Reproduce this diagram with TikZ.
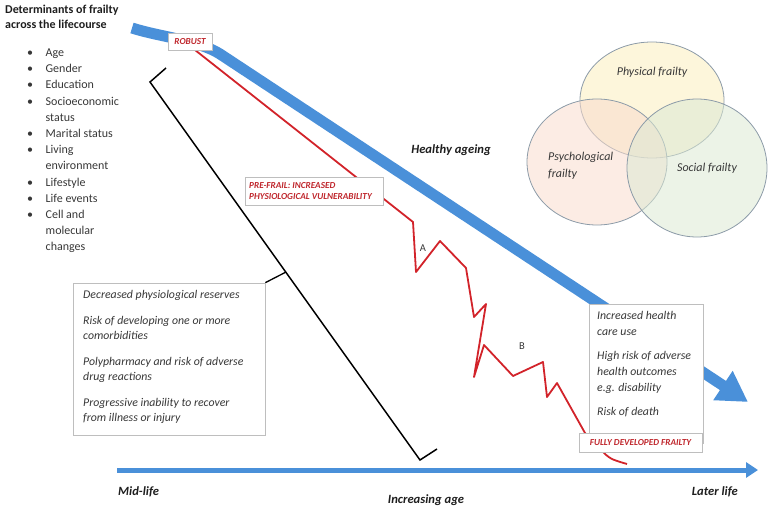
\documentclass[tikz,border=0pt]{standalone}
\usepackage{fontspec}
\setmainfont{Carlito}
\usetikzlibrary{arrows.meta,calc,backgrounds,shapes.geometric}
\definecolor{bluearr}{RGB}{74,144,217}
\definecolor{redl}{RGB}{210,35,42}
\definecolor{redt}{RGB}{192,39,45}
\definecolor{boxg}{RGB}{190,190,190}
\definecolor{txt}{RGB}{55,55,55}
\definecolor{ttl}{RGB}{30,30,30}
\definecolor{vennline}{RGB}{140,155,168}
\definecolor{physf}{RGB}{252,238,190}
\definecolor{psyf}{RGB}{249,220,205}
\definecolor{socf}{RGB}{220,233,212}
\begin{document}
\begin{tikzpicture}[x=1pt,y=-1pt,
  bodytxt/.style={font=\fontsize{11.8}{15}\selectfont\itshape, text=txt, inner sep=0pt, align=left, anchor=north west},
  redlab/.style={font=\fontsize{9.2}{11}\selectfont\bfseries\itshape, text=redt, inner sep=0pt, align=left},
  framebox/.style={draw=boxg, fill=white, line width=0.7pt, inner sep=0pt, minimum width=#1},
  axislab/.style={font=\fontsize{12.6}{15}\selectfont\bfseries\itshape, text=ttl, inner sep=0pt},
  venn/.style={ellipse, draw=vennline, line width=0.8pt, fill=#1, fill opacity=0.55, inner sep=0pt},
  venntxt/.style={font=\fontsize{12}{17}\selectfont\itshape, text=txt, inner sep=0pt, align=left},
  zigtxt/.style={font=\fontsize{10.5}{12}\selectfont, text=txt, inner sep=0pt},
  redline/.style={draw=redl, line width=1.8pt, line join=round},
  bracketline/.style={draw=black, line width=1.5pt, line join=miter}
]
\useasboundingbox (0,0) rectangle (768,508);

% Title and list
\node[anchor=north west, inner sep=0pt, align=left, text=ttl,
  font=\fontsize{12}{14.5}\selectfont\bfseries] (title) at (5,5)
  {Determinants of frailty\\across the lifecourse};
\node[anchor=north west, inner sep=0pt, text=txt] (list) at (27,45)
  {\fontsize{12}{16.2}\selectfont
   \begin{tabular}{@{}l@{\hspace{12.5pt}}l@{}}
   \textbullet & Age\\
   \textbullet & Gender\\
   \textbullet & Education\\
   \textbullet & Socioeconomic\\
               & status\\
   \textbullet & Marital status\\
   \textbullet & Living\\
               & environment\\
   \textbullet & Lifestyle\\
   \textbullet & Life events\\
   \textbullet & Cell and\\
               & molecular\\
               & changes
   \end{tabular}};

% Venn diagram
\node[venn=physf, minimum width=144, minimum height=116] (phys) at (652,100) {};
\node[venn=psyf, minimum width=140, minimum height=126] (psy) at (597,162) {};
\node[venn=socf, minimum width=140, minimum height=138] (soc) at (697,168) {};
\node[venntxt] (physl) at (652,72) {Physical frailty};
\node[venntxt, anchor=west] (psyl) at (548,166) {Psychological\\frailty};
\node[venntxt] (socl) at (707,168) {Social frailty};

% Boxes
\node[framebox=44, minimum height=17] (robust) at (190,41.5) {};
\node[redlab] (robustl) at (robust) {ROBUST};
\node[framebox=138, minimum height=28] (prefrail) at (314,191) {};
\node[redlab, anchor=west] (prefraill) at (249,191.5) {PRE-FRAIL: INCREASED\\PHYSIOLOGICAL VULNERABILITY};
\node[framebox=192, minimum height=152] (dbox) at (169,359) {};
\node[bodytxt] (dtxt) at (83,290) {Decreased physiological reserves\\[11pt]
  Risk of developing one or more\\comorbidities\\[11pt]
  Polypharmacy and risk of adverse\\drug reactions\\[11pt]
  Progressive inability to recover\\from illness or injury};
\node[framebox=114, minimum height=139] (rbox) at (646,373.5) {};
\node[bodytxt, font=\fontsize{11.8}{16}\selectfont\itshape] (rtxt) at (597,311) {Increased health\\care use\\[8pt]
  High risk of adverse\\health outcomes\\e.g. disability\\[8pt]
  Risk of death};
\node[framebox=123, minimum height=19] (fully) at (640.5,442.5) {};
\node[redlab] (fullyl) at (fully) {FULLY DEVELOPED FRAILTY};

% Labels
\node[axislab] (healthy) at (451,150) {Healthy ageing};
\node[axislab, anchor=west] (mid) at (118,492) {Mid-life};
\node[axislab] (incr) at (426,500) {Increasing age};
\node[axislab, anchor=east] (later) at (738,492) {Later life};
\node[zigtxt] (la) at (423,248) {A};
\node[zigtxt] (lb) at (522,346) {B};

% Axis
\coordinate (ax0) at (117,470);
\coordinate (ax1) at (758,470);
\draw[bluearr, line width=5pt, -{Triangle[length=12pt,width=15pt]}] (ax0) -- (ax1);

\begin{pgfonlayer}{background}
  % Healthy ageing arrow
  \coordinate (hs) at (132,28);
  \coordinate (hb) at (220,54);
  \coordinate (he) at (748,402);
  \draw[bluearr, line width=11pt, -{Triangle[length=30pt,width=33pt]}]
    (hs) .. controls (160,37) and (198,40) .. (hb) -- (he);
  % Frailty trajectory
  \coordinate (r0) at (195,50);
  \draw[redline] (r0) -- (413,222) -- (416,272) -- (440,241) -- (466,268) -- (474,317)
    -- (486,304) -- (474,377) -- (484,345) -- (513,376) -- (543,362) -- (547,397)
    -- (557,383) -- (585,433) -- (600,449) .. controls (610,459) .. (627,464);
  % Bracket
  \coordinate (b1) at (166,68);
  \coordinate (b2) at (150,82);
  \coordinate (b3) at (420,460);
  \coordinate (b4) at (437,449);
  \draw[bracketline] (b1) -- (b2) -- (b3) -- (b4);
  \draw[bracketline, line width=1.3pt] (dbox.north east) -- ($(b2)!0.503!(b3)$);
\end{pgfonlayer}
\end{tikzpicture}
\end{document}
